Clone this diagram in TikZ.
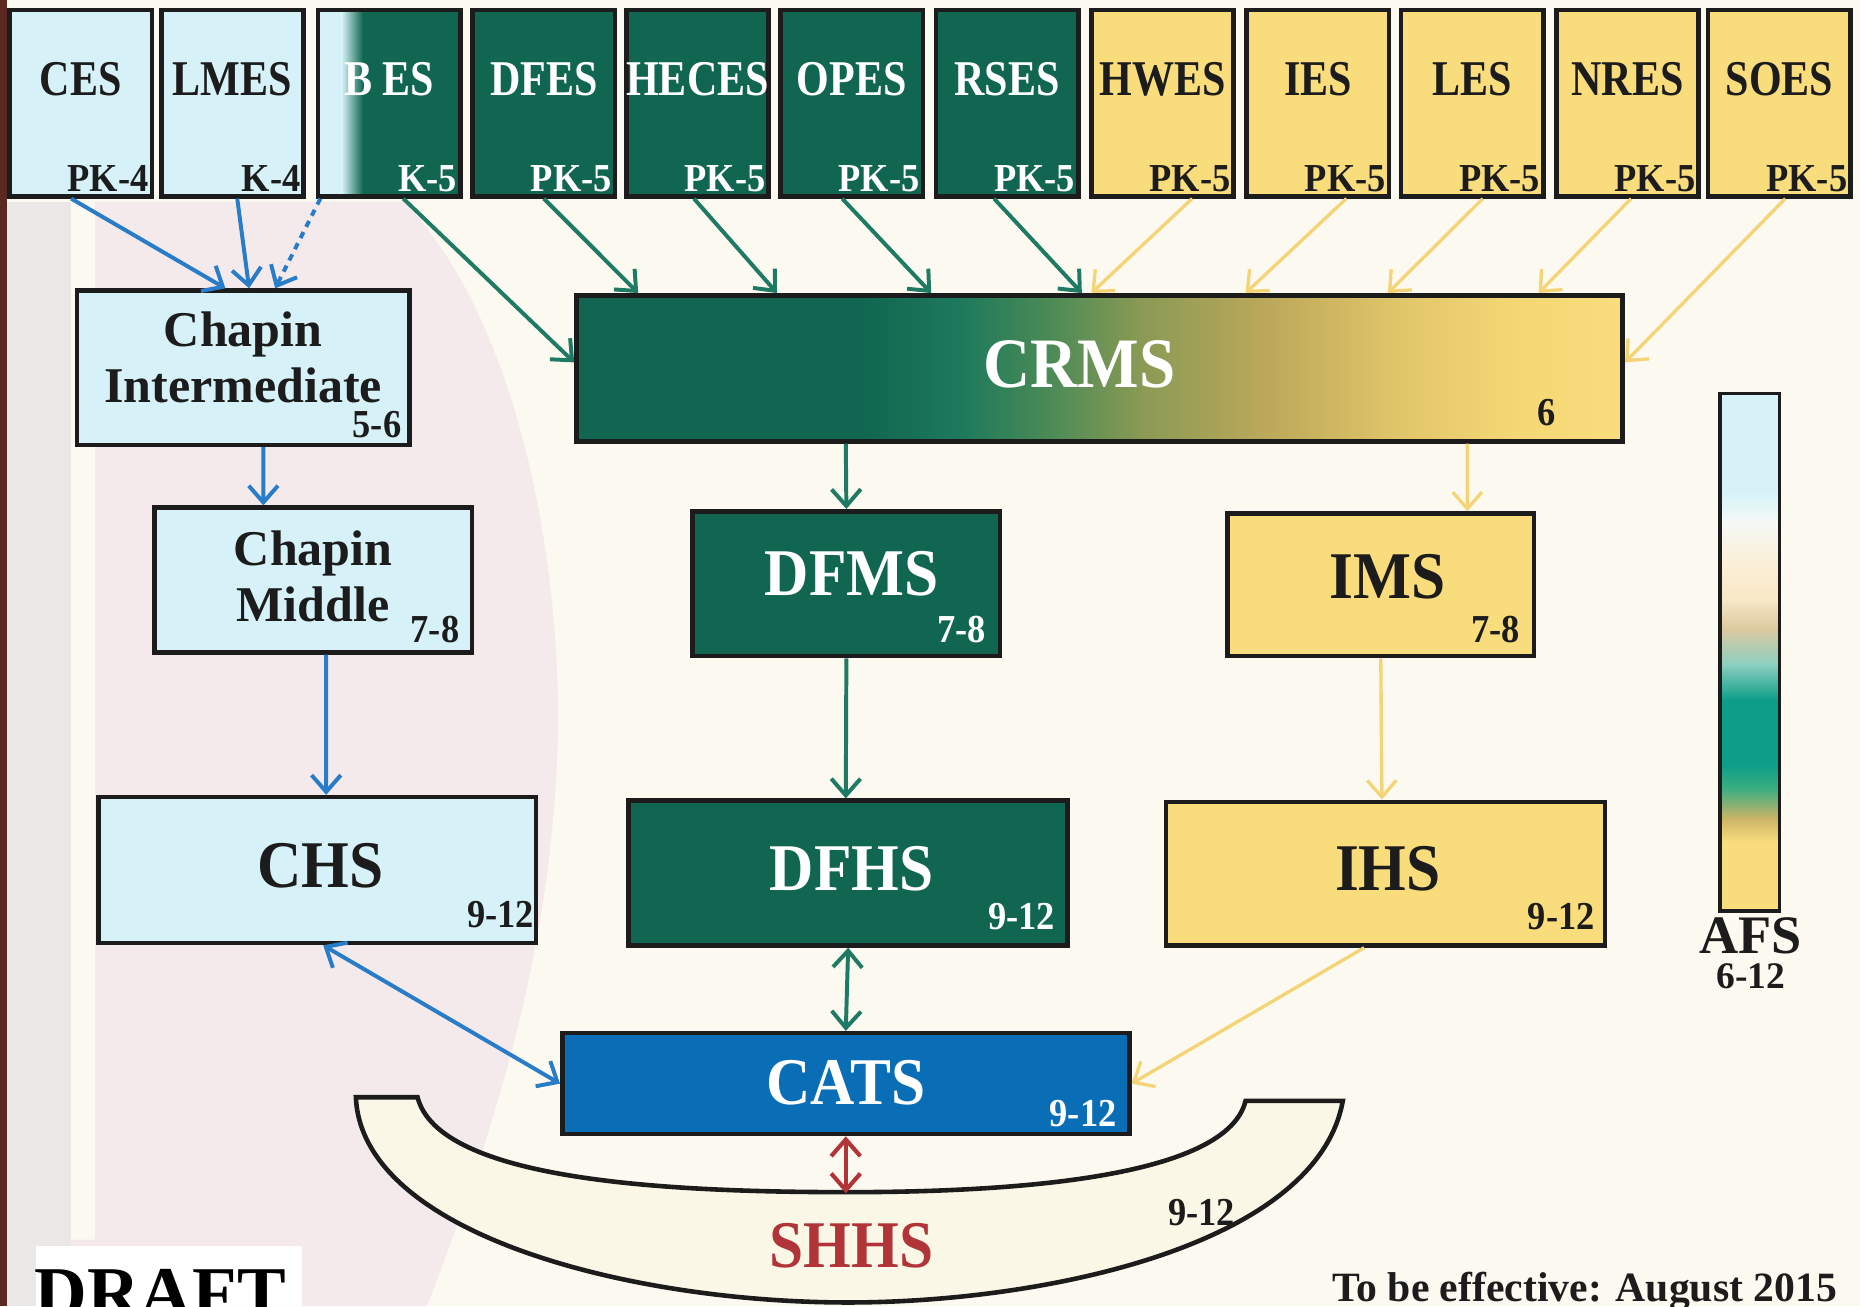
\documentclass[tikz,border=0pt]{standalone}
\usepackage{fontspec}
\setmainfont{Liberation Serif}
\newfontfamily\condfont[FakeStretch=0.84]{Liberation Serif}
\newfontfamily\semicond[FakeStretch=0.92]{Liberation Serif}
\usetikzlibrary{arrows.meta}

\definecolor{paper}{RGB}{252,250,240}
\definecolor{lightblue}{RGB}{214,242,248}
\definecolor{darkgreen}{RGB}{16,102,80}
\definecolor{sunyellow}{RGB}{249,220,124}
\definecolor{catsblue}{RGB}{10,110,182}
\definecolor{arrowblue}{RGB}{40,124,200}
\definecolor{arrowgreen}{RGB}{30,122,98}
\definecolor{arrowyellow}{RGB}{245,212,120}
\definecolor{shhsred}{RGB}{176,52,56}
\definecolor{inkdark}{RGB}{28,28,28}
\definecolor{crescent}{RGB}{251,247,230}
\definecolor{dotpink}{RGB}{244,234,235}
\definecolor{dotgray}{RGB}{234,231,230}
\definecolor{edgebrown}{RGB}{92,40,34}
\definecolor{crmsa}{RGB}{30,122,92}
\definecolor{crmsb}{RGB}{74,138,86}
\definecolor{crmsc}{RGB}{138,154,85}
\definecolor{crmsd}{RGB}{188,168,90}
\definecolor{crmse}{RGB}{226,198,106}
\definecolor{crmsf}{RGB}{245,215,117}
\definecolor{afstan}{RGB}{205,180,104}
\definecolor{afsgreen}{RGB}{60,174,128}
\definecolor{afsteal}{RGB}{14,158,136}
\definecolor{afsmint}{RGB}{142,207,192}
\definecolor{afssand}{RGB}{220,201,160}
\definecolor{afspeach}{RGB}{248,232,198}
\definecolor{afscream}{RGB}{251,240,218}
\definecolor{afswhite}{RGB}{244,249,246}

\pgfdeclarehorizontalshading{crmsfade}{100bp}{color(0bp)=(darkgreen); color(38.5bp)=(darkgreen);
  color(43.5bp)=(crmsa); color(47.5bp)=(crmsb); color(52bp)=(crmsc); color(58bp)=(crmsd);
  color(64.5bp)=(crmse); color(70bp)=(crmsf); color(75bp)=(sunyellow); color(100bp)=(sunyellow)}
\pgfdeclareverticalshading{afsfade}{100bp}{color(0bp)=(sunyellow); color(31.7bp)=(sunyellow);
  color(33.9bp)=(afstan); color(36.8bp)=(afsgreen); color(39.1bp)=(afsteal); color(45.4bp)=(afsteal);
  color(48.9bp)=(afsmint); color(52.3bp)=(afssand); color(55.2bp)=(afspeach); color(59.2bp)=(afscream);
  color(62.6bp)=(afswhite); color(65.5bp)=(lightblue); color(100bp)=(lightblue)}

\tikzset{
  barb/.tip={Straight Barb[length=4pt,width=7pt]},
  schoolbox/.style={draw=inkdark, line width=1.1pt, inner sep=0pt},
  topbox/.style={schoolbox, minimum width=1.20cm, minimum height=1.57cm},
  lightbox/.style={fill=lightblue},
  greenbox/.style={fill=darkgreen},
  yellowbox/.style={fill=sunyellow},
  fadebox/.style={fill=darkgreen, path picture={
      \fill[lightblue] (path picture bounding box.south west) rectangle ([xshift=2mm]path picture bounding box.north west);
      \shade[left color=lightblue, right color=darkgreen] ([xshift=2mm]path picture bounding box.south west) rectangle ([xshift=3.8mm]path picture bounding box.north west);}},
  topname/.style={font=\condfont\bfseries\fontsize{12}{14}\selectfont, inner sep=0pt},
  grade/.style={font=\semicond\bfseries\fontsize{9.5}{11}\selectfont, inner sep=0pt, anchor=base east, text=inkdark},
  midname/.style={font=\bfseries\fontsize{12}{13.4}\selectfont, align=center, inner sep=0pt, text=inkdark},
  bigname/.style={font=\semicond\bfseries\fontsize{16}{18}\selectfont, inner sep=0pt},
  flow/.style={-barb, line width=0.95pt},
  blueflow/.style={flow, draw=arrowblue},
  greenflow/.style={flow, draw=arrowgreen},
  yellowflow/.style={flow, draw=arrowyellow, line width=0.8pt},
  redflow/.style={flow, draw=shhsred, line width=1pt}
}

\begin{document}
\begin{tikzpicture}[x=1cm, y=-1cm]
  \useasboundingbox (0,0) rectangle (15.68,11.01);
  \fill[paper] (0,0) rectangle (15.68,11.01);
  \fill[dotgray] (0.06,1.70) rectangle (0.60,11.01);
  \fill[dotpink] (0.80,1.70) -- (3.40,1.70) .. controls (4.30,2.60) and (4.75,4.60) .. (4.70,6.30)
    .. controls (4.65,7.80) and (4.30,9.20) .. (3.60,11.01) -- (0.60,11.01) -- (0.60,10.45) -- (0.80,10.45) -- cycle;
  \fill[white] (0.30,10.50) rectangle (2.55,11.01);
  \fill[edgebrown] (0,0) rectangle (0.06,11.01);

  \foreach \nm/\txt/\gr/\x/\sty/\ink in {ces/CES/PK-4/0.68/lightbox/inkdark, lmes/LMES/K-4/1.96/lightbox/inkdark,
      bes/B ES/K-5/3.28/fadebox/white, dfes/DFES/PK-5/4.585/greenbox/white, heces/HECES/PK-5/5.88/greenbox/white,
      opes/OPES/PK-5/7.18/greenbox/white, rses/RSES/PK-5/8.49/greenbox/white, hwes/HWES/PK-5/9.80/yellowbox/inkdark,
      ies/IES/PK-5/11.11/yellowbox/inkdark, les/LES/PK-5/12.41/yellowbox/inkdark, nres/NRES/PK-5/13.72/yellowbox/inkdark,
      soes/SOES/PK-5/15.00/yellowbox/inkdark}{
    \node[topbox, \sty] (\nm) at (\x,0.87) {};
    \node[topname, text=\ink] (\nm-t) at ([yshift=-6mm]\nm.north) {\txt};
    \node[grade, text=\ink] (\nm-g) at ([xshift=-0.4mm, yshift=0.6mm]\nm.south east) {\gr};
  }

  \draw[fill=crescent, draw=inkdark, line width=1.1pt] (3.00,9.25) -- (3.52,9.25)
    .. controls (3.70,9.95) and (5.60,10.05) .. (7.15,10.05)
    .. controls (8.70,10.05) and (10.35,9.90) .. (10.50,9.28) -- (11.32,9.28)
    .. controls (11.10,10.50) and (8.80,10.98) .. (7.15,10.98)
    .. controls (5.30,10.98) and (3.05,10.40) .. cycle;
  \coordinate (shhsin) at (7.13,10.06);
  \node[bigname, text=shhsred] (shhs) at (7.18,10.50) {SHHS};
  \node[grade, anchor=center] (shhs-g) at (10.13,10.22) {9-12};

  \node[schoolbox, lightbox, minimum width=2.80cm, minimum height=1.30cm] (chapint) at (2.05,3.10) {};
  \node[midname] (chapint-t) at (2.05,3.01) {Chapin\\Intermediate};
  \node[grade] (chapint-g) at ([xshift=-0.8mm, yshift=0.8mm]chapint.south east) {5-6};

  \node[schoolbox, lightbox, minimum width=2.68cm, minimum height=1.22cm] (chapmid) at (2.64,4.89) {};
  \node[midname] (chapmid-t) at (2.64,4.86) {Chapin\\Middle};
  \node[grade] (chapmid-g) at ([xshift=-1.2mm, yshift=1.0mm]chapmid.south east) {7-8};

  \node[schoolbox, lightbox, minimum width=3.69cm, minimum height=1.23cm] (chs) at (2.675,7.335) {};
  \node[bigname, text=inkdark] (chs-t) at (2.70,7.30) {CHS};
  \node[grade] (chs-g) at ([xshift=-0.3mm, yshift=1.5mm]chs.south east) {9-12};

  \node[schoolbox, shading=crmsfade, minimum width=8.82cm, minimum height=1.23cm] (crms) at (9.27,3.105) {};
  \node[bigname, text=white, font=\semicond\bfseries\fontsize{17}{19}\selectfont] (crms-t) at (9.10,3.07) {CRMS};
  \node[grade] (crms-g) at ([xshift=-5.8mm, yshift=1.5mm]crms.south east) {6};

  \node[schoolbox, greenbox, minimum width=2.59cm, minimum height=1.22cm] (dfms) at (7.135,4.92) {};
  \node[bigname, text=white] (dfms-t) at (7.18,4.84) {DFMS};
  \node[grade, text=white] (dfms-g) at ([xshift=-1.3mm, yshift=1.3mm]dfms.south east) {7-8};

  \node[schoolbox, yellowbox, minimum width=2.58cm, minimum height=1.20cm] (ims) at (11.64,4.93) {};
  \node[bigname, text=inkdark] (ims-t) at (11.70,4.86) {IMS};
  \node[grade] (ims-g) at ([xshift=-1.3mm, yshift=1.3mm]ims.south east) {7-8};

  \node[schoolbox, greenbox, minimum width=3.70cm, minimum height=1.22cm] (dfhs) at (7.15,7.36) {};
  \node[bigname, text=white] (dfhs-t) at (7.18,7.32) {DFHS};
  \node[grade, text=white] (dfhs-g) at ([xshift=-1.2mm, yshift=1.5mm]dfhs.south east) {9-12};

  \node[schoolbox, yellowbox, minimum width=3.70cm, minimum height=1.21cm] (ihs) at (11.68,7.365) {};
  \node[bigname, text=inkdark] (ihs-t) at (11.70,7.32) {IHS};
  \node[grade] (ihs-g) at ([xshift=-1.0mm, yshift=1.5mm]ihs.south east) {9-12};

  \node[schoolbox, fill=catsblue, minimum width=4.78cm, minimum height=0.85cm] (cats) at (7.13,9.135) {};
  \node[bigname, text=white] (cats-t) at (7.13,9.13) {CATS};
  \node[grade, text=white] (cats-g) at ([xshift=-1.2mm, yshift=0.8mm]cats.south east) {9-12};

  \node[schoolbox, line width=0.8pt, shading=afsfade, minimum width=0.50cm, minimum height=4.36cm] (afs) at (14.75,5.50) {};
  \node[font=\bfseries\fontsize{13}{15}\selectfont, text=inkdark, inner sep=0pt] (afs-t) at (14.76,7.89) {AFS};
  \node[font=\bfseries\fontsize{9}{11}\selectfont, text=inkdark, inner sep=0pt] (afs-g) at (14.76,8.23) {6-12};

  \node[font=\bfseries\fontsize{17.5}{20}\selectfont, text=black, anchor=base, inner sep=0pt] (draft) at (1.35,11.11) {DRAFT};
  \node[font=\bfseries\fontsize{10}{12}\selectfont, text=inkdark, anchor=base, inner sep=0pt] (effective) at (13.36,10.97) {To be effective: August 2015};

  \draw[blueflow] ([xshift=-0.8mm]ces.south) -- ([xshift=-1.5mm]chapint.north);
  \draw[blueflow] ([xshift=0.4mm]lmes.south) -- ([xshift=0.5mm]chapint.north);
  \draw[blueflow, dash pattern=on 1.6pt off 1.4pt] ([xshift=0.4mm]bes.south west) -- ([xshift=2.7mm]chapint.north);
  \draw[greenflow] ([xshift=1.2mm]bes.south) -- ([yshift=0.5mm]crms.west);
  \draw[greenflow] (dfes.south) -- ([xshift=-38.9mm]crms.north);
  \draw[greenflow] ([xshift=-0.3mm]heces.south) -- ([xshift=-27.2mm]crms.north);
  \draw[greenflow] ([xshift=-0.8mm]opes.south) -- ([xshift=-14.2mm]crms.north);
  \draw[greenflow] ([xshift=-1.1mm]rses.south) -- ([xshift=-1.5mm]crms.north);
  \draw[yellowflow] ([xshift=2.5mm]hwes.south) -- ([xshift=-0.7mm]crms.north);
  \draw[yellowflow] ([xshift=2.4mm]ies.south) -- ([xshift=12.3mm]crms.north);
  \draw[yellowflow] ([xshift=0.9mm]les.south) -- ([xshift=24.3mm]crms.north);
  \draw[yellowflow] ([xshift=0.3mm]nres.south) -- ([xshift=37mm]crms.north);
  \draw[yellowflow] ([xshift=0.5mm]soes.south) -- ([yshift=0.5mm]crms.east);

  \draw[blueflow] ([xshift=1.7mm]chapint.south) -- ([xshift=-4.2mm]chapmid.north);
  \draw[blueflow] ([xshift=1.1mm]chapmid.south) -- ([xshift=0.75mm]chs.north);
  \draw[greenflow] ([xshift=-21.4mm]crms.south) -- (dfms.north);
  \draw[yellowflow] ([xshift=31mm]crms.south) -- ([xshift=7.3mm]ims.north);
  \draw[greenflow] (dfms.south) -- ([xshift=-0.2mm]dfhs.north);
  \draw[yellowflow] (ims.south) -- ([xshift=-0.3mm]ihs.north);
  \draw[greenflow, barb-barb] (dfhs.south) -- (cats.north);
  \draw[blueflow, barb-barb] ([xshift=0.5mm]chs.south) -- (cats.west);
  \draw[yellowflow] ([xshift=-1.8mm]ihs.south) -- (cats.east);
  \draw[redflow, barb-barb] (cats.south) -- (shhsin);
\end{tikzpicture}
\end{document}
